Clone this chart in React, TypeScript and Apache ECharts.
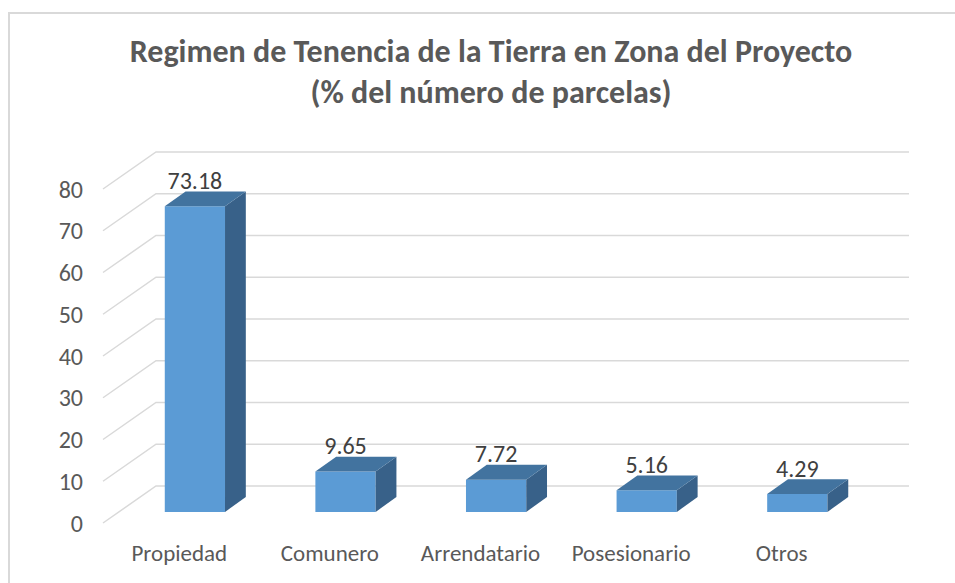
import React, { useEffect, useRef } from "react";
import * as echarts from "echarts";

const categories = ["Propiedad", "Comunero", "Arrendatario", "Posesionario", "Otros"];
const values = [73.18, 9.65, 7.72, 5.16, 4.29];
const yTicks = [0, 10, 20, 30, 40, 50, 60, 70, 80];
const titleLines = [
  "Regimen de Tenencia de la Tierra en Zona del Proyecto",
  "(% del número de parcelas)",
];

const DEPTH_X = 52;
const DEPTH_Y = -37;
const BAR_FRONT = 0.3;
const BAR_BACK = 0.7;
const TEXT = "#595959";
const GRID = "#D9D9D9";
const FONT = 'Carlito, "Liberation Sans", Arial, sans-serif';

export default function App() {
  const ref = useRef<HTMLDivElement>(null);
  useEffect(() => {
    document.body.style.margin = "0";
    const chart = echarts.init(ref.current!, undefined, { renderer: "svg" });
    chart.setOption({
      animation: false,
      backgroundColor: "#FFFFFF",
      title: {
        text: titleLines.join("\n"),
        left: 491,
        top: 31,
        padding: 0,
        textAlign: "center",
        textStyle: {
          fontFamily: FONT,
          fontSize: 32,
          fontWeight: "bold",
          lineHeight: 41,
          color: TEXT,
        },
      },
      graphic: [
        {
          type: "rect",
          silent: true,
          shape: { x: 9, y: 13, width: 1200, height: 1200 },
          style: { fill: "none", stroke: GRID, lineWidth: 2 },
        },
      ],
      grid: { left: 104, right: 98, top: 189, bottom: 60 },
      xAxis: {
        type: "category",
        data: categories,
        axisLine: { show: false },
        axisTick: { show: false },
        axisLabel: { color: TEXT, fontSize: 23, fontFamily: FONT, margin: 18, interval: 0 },
      },
      yAxis: {
        type: "value",
        min: 0,
        max: 80,
        interval: 10,
        splitLine: { show: false },
        axisLine: { show: false },
        axisTick: { show: false },
        axisLabel: {
          color: TEXT,
          fontSize: 24,
          fontFamily: FONT,
          margin: 21,
          padding: [7, 0, 0, 0],
        },
      },
      series: [
        {
          type: "custom",
          clip: false,
          silent: true,
          data: yTicks.map((v) => [0, v]),
          renderItem: (params: any, api: any) => {
            const v = api.value(1);
            const cs = params.coordSys;
            const y = api.coord([0, v])[1];
            const x0 = cs.x;
            return {
              type: "polyline",
              shape: {
                points: [
                  [x0 - 1, y],
                  [x0 + DEPTH_X, y + DEPTH_Y],
                  [x0 + cs.width + DEPTH_X, y + DEPTH_Y],
                ],
              },
              style: { stroke: GRID, lineWidth: 1.5, fill: null },
            };
          },
        },
        {
          type: "custom",
          clip: false,
          data: values.map((v, i) => [i, v]),
          renderItem: (params: any, api: any) => {
            const i = api.value(0);
            const v = api.value(1);
            const base = api.coord([i, 0]);
            const top = api.coord([i, v]);
            const band = api.size([1, 0])[0];
            const w = band * 0.4;
            const fx = base[0] + BAR_FRONT * DEPTH_X - w / 2;
            const fyB = base[1] + BAR_FRONT * DEPTH_Y;
            const fyT = top[1] + BAR_FRONT * DEPTH_Y;
            const dx = (BAR_BACK - BAR_FRONT) * DEPTH_X;
            const dy = (BAR_BACK - BAR_FRONT) * DEPTH_Y;
            return {
              type: "group",
              children: [
                {
                  type: "polygon",
                  shape: { points: [[fx, fyB], [fx + w, fyB], [fx + w, fyT], [fx, fyT]] },
                  style: { fill: "#5B9BD5" },
                },
                {
                  type: "polygon",
                  shape: {
                    points: [[fx + w, fyB], [fx + w + dx, fyB + dy], [fx + w + dx, fyT + dy], [fx + w, fyT]],
                  },
                  style: { fill: "#386189" },
                },
                {
                  type: "polygon",
                  shape: {
                    points: [[fx, fyT], [fx + w, fyT], [fx + w + dx, fyT + dy], [fx + dx, fyT + dy]],
                  },
                  style: { fill: "#42739F" },
                },
                {
                  type: "text",
                  style: {
                    x: fx + w / 2,
                    y: fyT + dy - 11,
                    text: String(values[i]),
                    align: "center",
                    verticalAlign: "middle",
                    fontFamily: FONT,
                    fontSize: 24,
                    fill: "#404040",
                  },
                },
              ],
            };
          },
        },
      ],
    });
    return () => chart.dispose();
  }, []);
  return <div ref={ref} style={{ position: "fixed", left: 0, top: 0, width: 955, height: 583 }} />;
}
